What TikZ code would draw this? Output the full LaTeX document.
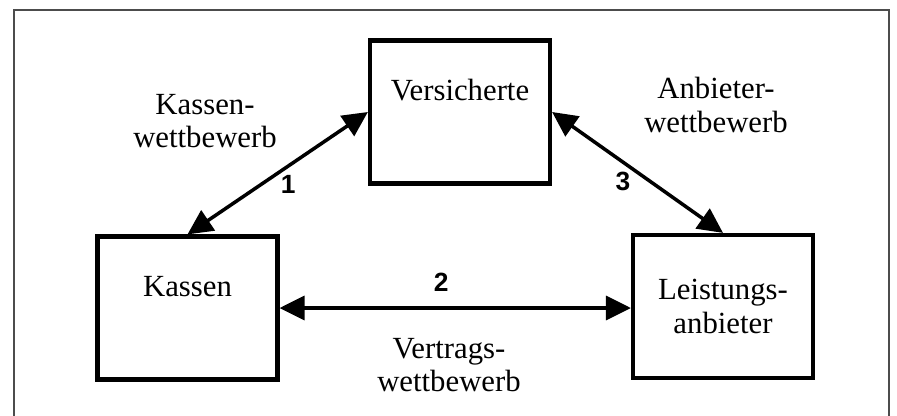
\documentclass[tikz,border=0pt]{standalone}
\usepackage{fontspec}
\setmainfont{Liberation Serif}
\newfontfamily\numfont{Liberation Sans}
\usetikzlibrary{arrows.meta}

\begin{document}
\begin{tikzpicture}[
    box/.style={draw, line width=2.4pt, minimum width=3.6cm, minimum height=2.86cm,
                align=center, font=\fontsize{17.5}{19}\selectfont},
    testo/.style={align=center, font=\fontsize{17.5}{19}\selectfont},
    freccia/.style={line width=2pt, {Triangle[length=0.5cm, width=0.48cm]}-{Triangle[length=0.5cm, width=0.48cm]}},
    numero/.style={font=\numfont\bfseries\fontsize{15}{17}\selectfont}
  ]
        % Cornice esterna
        \useasboundingbox (0,0) rectangle (17.94,8.3);
        \draw[black!70, line width=0.8pt] (0.28,-0.2) |- (17.78,8.1) -- (17.78,-0.2);

        % Riquadri
        \node[box] (vers) at (9.2,6.06) {Versicherte\\\strut};
        \node[box] (kassen) at (3.75,2.14) {Kassen\\\strut};
        \node[box] (leist) at (14.46,2.17) {Leistungs-\\anbieter};

        % Testi di concorrenza
        \node[testo] (kw) at (4.1,5.88) {Kassen-\\wettbewerb};
        \node[testo] (aw) at (14.32,6.2) {Anbieter-\\wettbewerb};
        \node[testo] (vw) at (8.98,1.0) {Vertrags-\\wettbewerb};

        % Frecce doppie
        \draw[freccia] (kassen.north) -- (vers.west)
            node[numero, midway, shift={(0.21,-0.22)}] (n1) {1};
        \draw[freccia] (kassen.east) -- (kassen.east -| leist.west)
            node[numero, midway, shift={(-0.28,0.52)}] (n2) {2};
        \draw[freccia] (vers.east) -- (leist.north)
            node[numero, midway, shift={(-0.29,-0.18)}] (n3) {3};
      \end{tikzpicture}
\end{document}
